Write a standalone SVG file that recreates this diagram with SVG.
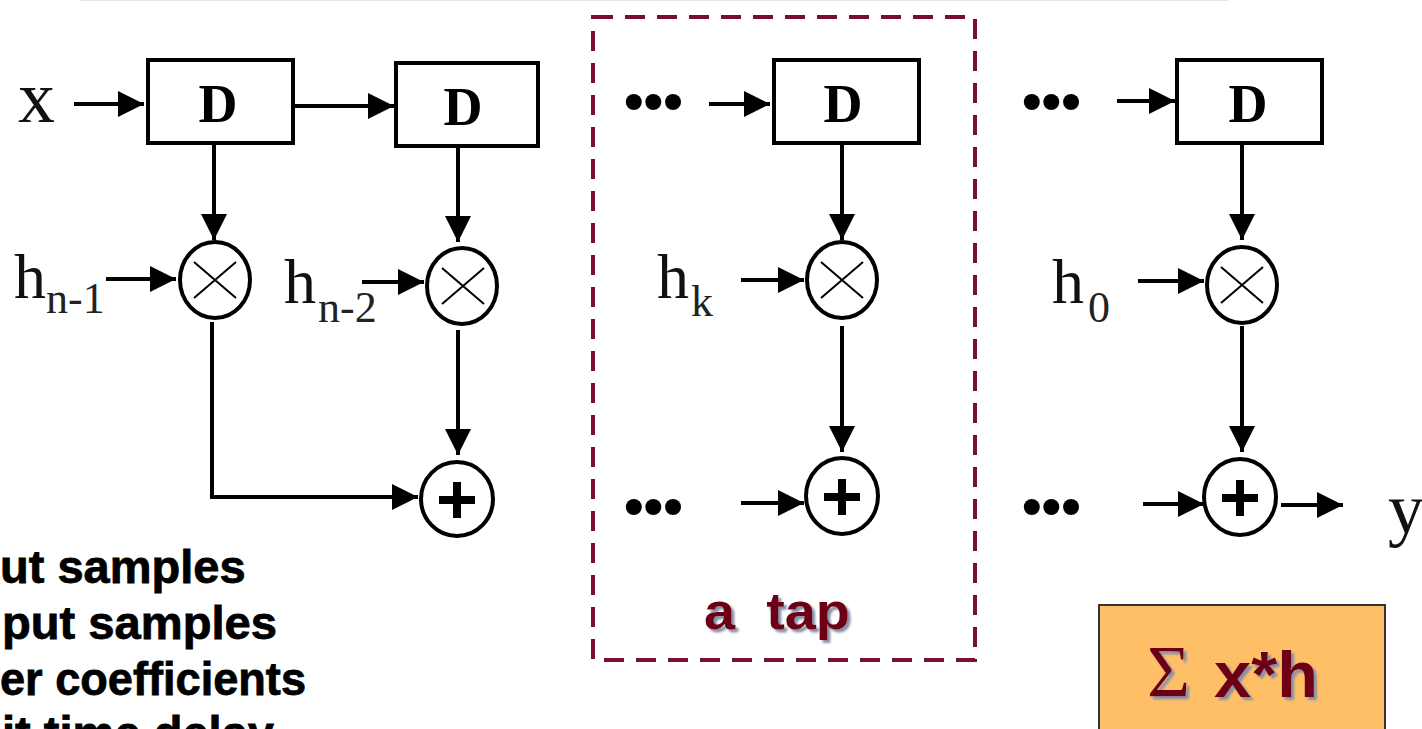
<svg xmlns="http://www.w3.org/2000/svg" width="1422" height="729" viewBox="0 0 1422 729">
<style>
.box{fill:#fff;stroke:#000;stroke-width:4}
.circ{fill:#fff;stroke:#000;stroke-width:4}
.thin{fill:none;stroke:#000;stroke-width:2}
.plus{fill:none;stroke:#000;stroke-width:8}
.c{fill:none;stroke:#000;stroke-width:4}
.d{font:bold 54px "Liberation Serif",serif;text-anchor:middle}
.t{font-family:"Liberation Serif",serif;font-size:64px;fill:#111}
.s{font-family:"Liberation Serif",serif;font-size:44px;fill:#222}
.dots{font:bold 56px "Liberation Sans",sans-serif;fill:#000}
.k{font:bold 47px "Liberation Sans",sans-serif;fill:#000;stroke:#000;stroke-width:.8}
.m{font:bold 52px "Liberation Sans",sans-serif;fill:#6e0018}
</style>
<defs>
<marker id="a" markerUnits="userSpaceOnUse" markerWidth="30" markerHeight="28" refX="26" refY="13" orient="auto"><path d="M0 0L26 13L0 26Z" fill="#000"/></marker>
<filter id="sh" x="-10%" y="-10%" width="130%" height="130%"><feDropShadow dx="3" dy="3" stdDeviation="0.8" flood-color="#8a8fa8"/></filter>
</defs>
<rect width="1422" height="729" fill="#fff"/>
<line x1="80" y1="0" x2="1228" y2="0" stroke="#e4e4e4" stroke-width="2"/>
<g id="connectors">
<path class="c" d="M74 104H144" marker-end="url(#a)"/>
<path class="c" d="M294 106H394" marker-end="url(#a)"/>
<path class="c" d="M709 104H770" marker-end="url(#a)"/>
<path class="c" d="M1117 101H1175" marker-end="url(#a)"/>
<path class="c" d="M214 144V240" marker-end="url(#a)"/>
<path class="c" d="M458 147V242" marker-end="url(#a)"/>
<path class="c" d="M842 144V240" marker-end="url(#a)"/>
<path class="c" d="M1242 144V240" marker-end="url(#a)"/>
<path class="c" d="M106 279H176" marker-end="url(#a)"/>
<path class="c" d="M362 282H424" marker-end="url(#a)"/>
<path class="c" d="M741 280H804" marker-end="url(#a)"/>
<path class="c" d="M1138 281H1204" marker-end="url(#a)"/>
<path class="c" d="M212 322V497H418" marker-end="url(#a)"/>
<path class="c" d="M458 330V455" marker-end="url(#a)"/>
<path class="c" d="M842 326V452" marker-end="url(#a)"/>
<path class="c" d="M1242 326V452" marker-end="url(#a)"/>
<path class="c" d="M741 503H804" marker-end="url(#a)"/>
<path class="c" d="M1143 504H1204" marker-end="url(#a)"/>
<path class="c" d="M1281 505H1343" marker-end="url(#a)"/>
</g>
<g id="d1"><rect class="box" x="148" y="60" width="145" height="83"/><text class="d" x="218" y="122">D</text></g>
<g id="d2"><rect class="box" x="396" y="63" width="142" height="83"/><text class="d" x="463" y="125">D</text></g>
<g id="d3"><rect class="box" x="774" y="60" width="145" height="83"/><text class="d" x="843" y="122">D</text></g>
<g id="d4"><rect class="box" x="1177" y="60" width="145" height="83"/><text class="d" x="1248" y="122">D</text></g>
<g id="m1"><ellipse class="circ" cx="215" cy="280" rx="35" ry="38"/><path class="thin" d="M194 262L236 298M236 262L194 298"/></g>
<g id="m2"><ellipse class="circ" cx="462" cy="286" rx="35" ry="38"/><path class="thin" d="M442 268L484 304M484 268L442 304"/></g>
<g id="m3"><ellipse class="circ" cx="842" cy="280" rx="35" ry="38"/><path class="thin" d="M821 262L863 298M863 262L821 298"/></g>
<g id="m4"><ellipse class="circ" cx="1242" cy="285" rx="35" ry="38"/><path class="thin" d="M1221 267L1263 303M1263 267L1221 303"/></g>
<g id="a1"><ellipse class="circ" cx="457" cy="499" rx="36" ry="37"/><path class="plus" d="M439 500H475M457 482V518"/></g>
<g id="a2"><ellipse class="circ" cx="842" cy="496" rx="36" ry="38"/><path class="plus" d="M824 497H860M842 479V515"/></g>
<g id="a3"><ellipse class="circ" cx="1240" cy="497" rx="36" ry="38"/><path class="plus" d="M1222 498H1258M1240 480V516"/></g>
<g id="labels">
<text class="t" x="18" y="122" style="font-size:74px">x</text>
<text class="t" x="14" y="298">h</text><text class="s" x="46" y="313">n-1</text>
<text class="t" x="284" y="303">h</text><text class="s" x="318" y="322">n-2</text>
<text class="t" x="657" y="298">h</text><text class="s" x="691" y="316">k</text>
<text class="t" x="1052" y="303">h</text><text class="s" x="1088" y="322">0</text>
<text class="t" x="1388" y="533" style="font-size:72px">y</text>
<text class="dots" x="624" y="120">•••</text>
<text class="dots" x="1022" y="120">•••</text>
<text class="dots" x="624" y="525">•••</text>
<text class="dots" x="1022" y="525">•••</text>
<text class="k" x="0" y="583">ut samples</text>
<text class="k" x="2" y="639" textLength="275" lengthAdjust="spacingAndGlyphs">put samples</text>
<text class="k" x="0" y="695" textLength="306" lengthAdjust="spacingAndGlyphs">er coefficients</text>
<text class="k" x="2" y="749" textLength="272" lengthAdjust="spacingAndGlyphs">it time delay</text>
</g>
<g id="tap"><rect x="593" y="17" width="382" height="643" fill="none" stroke="#7a1030" stroke-width="4" stroke-dasharray="20 12"/><text class="m" x="704" y="629" filter="url(#sh)" xml:space="preserve" textLength="146" lengthAdjust="spacingAndGlyphs">a  tap</text></g>
<g id="sum"><rect x="1099" y="605" width="286" height="140" fill="#ffbf66" stroke="#333" stroke-width="2"/><text x="1147" y="697" font-family="Liberation Serif,serif" font-size="74" fill="#6e0018" filter="url(#sh)">Σ</text><text class="m" x="1214" y="697" filter="url(#sh)" style="font-size:64px" textLength="104" lengthAdjust="spacingAndGlyphs">x*h</text></g>
</svg>
